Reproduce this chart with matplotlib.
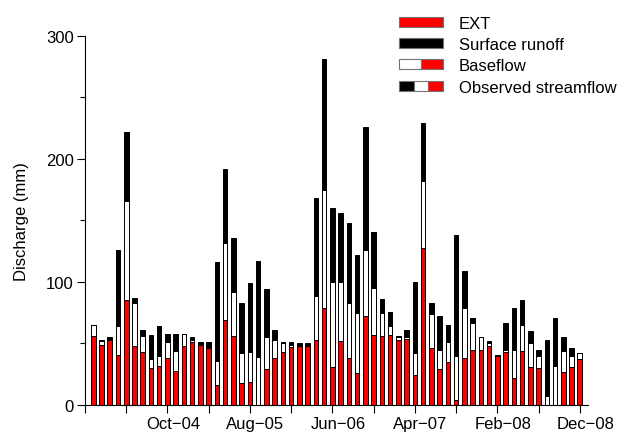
import matplotlib
matplotlib.use('Agg')
import matplotlib.pyplot as plt
import numpy as np
from matplotlib.patches import Patch
from matplotlib.legend_handler import HandlerTuple
import matplotlib.transforms as mtransforms

plt.rcParams['font.family'] = ['Liberation Sans', 'DejaVu Sans']

# monthly values Jan-04 .. Dec-08 (mm)
ext = [56, 49, 53, 41, 85, 48, 43, 30, 32, 38,
       28, 48, 51, 49, 46, 16, 69, 56, 18, 19,
       0, 29, 38, 43, 47, 48, 48, 53, 79, 31,
       52, 38, 26, 72, 57, 56, 57, 53, 54, 24,
       128, 46, 29, 35, 4, 38, 45, 45, 48, 40,
       43, 22, 44, 31, 30, 0, 0, 26.5, 30.5, 37]
baseflow = [65, 52, 53, 64, 166, 83, 56, 37, 40, 51,
            44, 58, 52.5, 49.5, 47, 36, 132, 92, 42, 43,
            39, 55, 53, 50, 49, 48, 48, 89, 175, 100,
            100, 83, 75, 126, 95, 75, 64, 55, 55, 42,
            182, 74, 45, 51, 40, 79, 67, 55, 50, 40,
            44.5, 44.5, 65, 50, 40, 7, 32, 44, 39.5, 42]
observed = [65, 53, 55, 126, 222, 87, 61, 57, 64, 58,
            58, 58, 55, 51, 51, 116, 192, 136, 83, 99,
            117, 94, 61, 51, 51, 50, 50, 168, 281, 160,
            156, 148, 122, 226, 141, 86, 76, 56, 61, 100,
            229, 83, 72, 65, 138, 109, 71, 55, 52, 41,
            67, 79, 85, 60, 45, 53, 71, 55.5, 46, 42.5]
tick_labels = ['Oct\u221204', 'Aug\u221205', 'Jun\u221206', 'Apr\u221207', 'Feb\u221208', 'Dec\u221208']

ext = np.array(ext)
baseflow = np.array(baseflow)
observed = np.array(observed)
months = np.arange(1, len(ext) + 1)

fig = plt.figure(figsize=(6.26, 4.35), dpi=100)
ax = fig.add_axes([0.1358, 0.0667, 0.8035, 0.8483])

w = 0.55
kw = dict(width=w, edgecolor='black', linewidth=0.7)
ax.bar(months, ext, color='#ff0000', **kw)
ax.bar(months, baseflow - ext, bottom=ext, color='white', **kw)
ax.bar(months, observed - baseflow, bottom=baseflow, color='black', **kw)

ax.set_xlim(0, 61)
ax.set_ylim(0, 300)
ax.set_yticks([0, 100, 200, 300])
ax.set_yticks([50, 150, 250], minor=True)
xt = np.arange(0, 61, 5)
ax.set_xticks(xt)
lab = [''] * len(xt)
for i, t in enumerate(xt):
    if t > 0 and t % 10 == 0:
        lab[i] = tick_labels[t // 10 - 1]
ax.set_xticklabels(lab)
ax.tick_params(axis='both', which='major', labelsize=12, length=6, width=0.8, pad=2)
ax.tick_params(axis='y', which='minor', length=3.5, width=0.8)
ax.tick_params(axis='x', pad=2)
off = mtransforms.ScaledTranslation(4 / 72, 0, fig.dpi_scale_trans)
for l in ax.get_xticklabels():
    l.set_transform(l.get_transform() + off)

for s in ['top', 'right']:
    ax.spines[s].set_visible(False)
for s in ['left', 'bottom']:
    ax.spines[s].set_linewidth(0.8)

ax.set_ylabel('Discharge (mm)', fontsize=12, labelpad=12)

pk = dict(edgecolor='0.45', linewidth=0.8)
h_ext = Patch(facecolor='#ff0000', **pk)
h_sr = Patch(facecolor='black', **pk)
h_bf = (Patch(facecolor='white', **pk), Patch(facecolor='#ff0000', **pk))
h_ob = (Patch(facecolor='black', **pk), Patch(facecolor='white', **pk), Patch(facecolor='#ff0000', **pk))
ax.legend([h_ext, h_sr, h_bf, h_ob],
          ['EXT', 'Surface runoff', 'Baseflow', 'Observed streamflow'],
          handler_map={tuple: HandlerTuple(ndivide=None, pad=0)},
          loc='upper left', bbox_to_anchor=(0.624, 1.055), frameon=False,
          fontsize=12, handlelength=2.65, handleheight=0.55,
          handletextpad=0.95, labelspacing=0.38, borderpad=0, borderaxespad=0)

fig.savefig('out.png', dpi=100)
